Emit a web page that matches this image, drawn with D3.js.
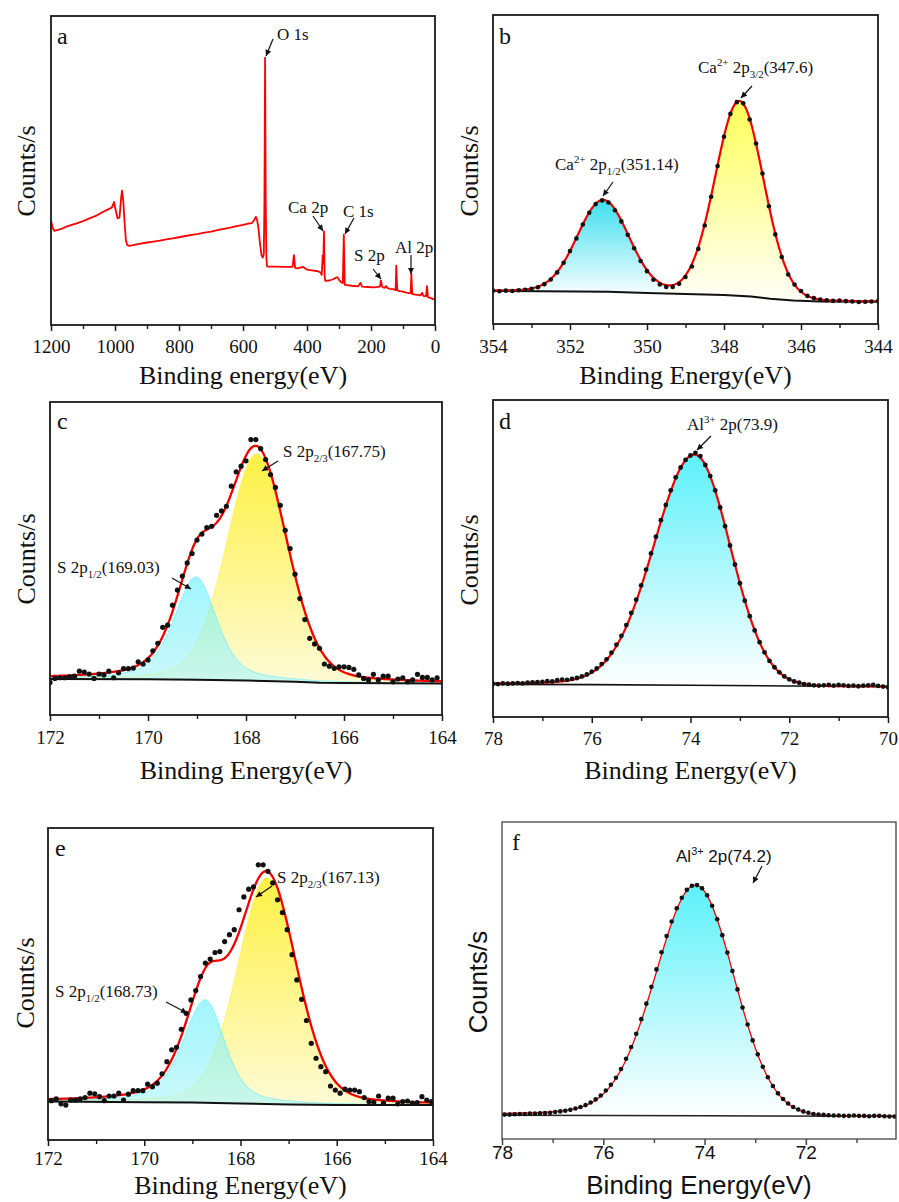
<!DOCTYPE html>
<html><head><meta charset="utf-8">
<script src="https://cdn.jsdelivr.net/npm/d3@7"></script>
<style>body{margin:0;background:#fff}</style>
</head><body>
<svg id="chart" width="899" height="1202"></svg>
<script>
// ================= DATA =================
// (a) survey spectrum: binding energy (eV) and relative counts (% of plot height)
const surveyEnergy=[1200,1195,1190,1170,1150,1120,1100,1080,1060,1040,1020,1010,1003,998,992,986,981,978,974,970,966,962,955,940,920,900,880,860,840,820,800,780,760,740,720,700,680,660,640,620,600,580,572,566,560,556,552,547,542,538,535,533,531,529,527,525,520,500,470,445,441,437,430,412,400,380,365,358,354,351,349,347,345,343,330,318,310,305,300,292,288,285,282,275,260,240,233,228,210,190,172,169,165,158,153,148,140,130,123,121,118,110,100,90,80,76,74,71,60,45,40,36,28,25,22,15,5,0];
const surveyCounts=[33.8,31.5,30.5,31.0,31.9,32.9,33.6,34.5,35.3,36.5,37.5,38.0,39.8,37.2,34.5,34.8,41.0,43.5,40.0,33.0,27.5,25.9,25.6,25.9,26.3,26.7,27.0,27.3,27.7,28.0,28.4,28.8,29.2,29.5,29.9,30.2,30.7,31.1,31.5,32.0,32.4,32.9,33.0,33.8,35.0,34.0,31.5,26.5,22.5,21.8,23.0,40,86.5,40,22.0,19.0,18.9,18.9,18.8,18.8,22.6,18.5,18.3,18.8,17.9,17.6,17.4,17.0,16.2,22.5,20.0,30.3,16.0,14.3,14.4,14.8,15.3,15.5,14.6,13.7,13.6,29.2,13.0,12.9,12.7,12.5,13.7,12.4,12.3,12.2,12.4,14.4,12.4,12.0,12.6,11.9,11.7,11.6,11.3,19.2,11.2,11.0,10.8,10.5,10.3,10.3,16.6,10.0,9.8,9.6,10.4,9.4,9.3,12.6,9.0,8.8,8.4,8.3];

// (b) Ca 2p
const bStart=354, bStep=1/6;
const bCounts=[10.8,10.6,10.8,10.7,10.9,11.1,11.4,11.9,12.9,14.4,16.7,19.8,23.6,27.7,32.2,36.0,38.8,40.0,39.3,36.8,33.2,28.9,24.5,20.4,17.1,14.3,12.8,12.0,12.0,13.0,15.2,18.6,24.3,31.9,41.2,51.1,60.6,68.0,71.8,71.4,66.2,58.4,48.7,38.1,29.0,21.7,16.0,12.8,10.7,9.1,8.4,7.9,7.7,7.5,7.6,7.4,7.3,7.1,7.2,7.3,7.4];
const bBaseE=[354,351,350,349,348,347.3,346.8,346.2,345.5,344];
const bBaseV=[10.7,10.4,10.0,9.7,9.4,8.9,8.2,7.6,7.3,7.2];
const bPeaks=[
  {center:351.14,height:29.6,wl:1.58,wr:1.58,etaL:0.05,etaR:0.05,tone:'cyanSoft'},
  {center:347.6,height:63.0,wl:1.48,wr:1.48,etaL:0.05,etaR:0.05,tone:'yellowSoft'}
];

// (c) S 2p (sample 1)
const cStart=172.0, cStep=0.1;
const cCounts=[10.4,11.7,11.9,11.9,12.2,12.4,14.0,13.7,13.1,11.7,13.1,12.8,14.0,11.9,13.5,14.8,14.8,15.0,17.0,16.3,17.6,20.5,22.9,28.0,28.7,35.1,39.9,44.4,48.6,51.6,55.9,57.8,59.9,60.3,63.8,65.2,66.7,73.1,77.7,79.5,81.2,88.0,88.0,85.1,81.6,76.8,72.7,67.0,59.0,53.2,45.0,37.2,30.5,24.5,22.7,21.3,16.3,15.6,14.9,15.4,15.4,15.2,14.6,12.8,11.7,11.2,13.0,11.2,12.4,12.4,10.6,11.5,11.9,10.6,11.2,13.0,12.0,12.0,11.2,11.9];
const cBaseE=[172,170,169,168,167,166.5,166,164];
const cBaseV=[11.5,11.4,11.3,11.0,10.6,10.3,10.2,10.1];
const cPeaks=[
  {center:167.78,height:72.5,wl:1.46,wr:1.46,etaL:0.2,etaR:0.2,tone:'yellow'},
  {center:169.02,height:32.8,wl:1.06,wr:1.0,etaL:0.5,etaR:0.5,tone:'cyan'}
];

// (d) Al 2p (sample 1)
const dStart=78, dStep=0.1;
const dCounts=[10.5,10.4,10.6,10.5,10.6,10.7,10.6,10.8,10.9,11.0,11.1,11.3,11.2,11.6,11.8,11.7,12.0,12.3,12.8,13.4,14.3,15.3,16.7,18.2,20.3,22.8,25.6,29.0,32.8,37.0,41.5,46.5,51.6,56.9,62.1,66.9,71.5,75.6,78.7,81.1,82.5,83.3,82.3,79.5,76.0,71.5,66.1,60.2,54.1,48.1,42.2,36.7,31.8,27.3,23.6,20.4,17.7,15.7,14.1,12.8,11.9,11.2,10.8,10.4,10.2,10.0,9.9,10.0,10.1,9.9,10.1,10.0,9.8,9.9,9.7,9.9,10.0,10.1,9.8,9.6,9.4];
const dBaseE=[78,76,74,72,70];
const dBaseV=[10.3,10.2,10.0,9.8,9.6];
const dPeaks=[{center:73.92,height:72.8,wl:1.94,wr:1.70,etaL:0.08,etaR:0.0,tone:'aqua'}];

// (e) S 2p (sample 2)
const eStart=171.93, eStep=0.1;
const eCounts=[12.6,13.2,11.6,11.2,12.8,12.8,13.2,13.6,15.0,14.8,13.9,12.6,14.1,14.1,15.0,12.8,14.7,15.8,15.8,15.8,17.9,17.1,18.2,21.2,25.1,28.9,29.7,35.5,40.6,44.9,47.9,52.4,56.7,58.0,60.1,60.4,63.6,65.8,67.4,73.8,77.9,80.4,81.1,88.2,88.2,86.1,82.4,77.0,72.9,67.4,59.4,51.3,45.1,38.3,31.0,26.2,23.5,21.9,17.3,16.0,15.0,16.3,16.0,16.0,15.5,13.6,12.3,12.1,14.1,11.8,13.4,13.4,11.6,12.3,12.5,11.8,12.0,13.9,12.8,12.3];
const eBaseE=[172,170,169,168,167,166,164];
const eBaseV=[12.3,12.1,12.0,11.7,11.4,11.2,11.2];
const ePeaks=[
  {center:167.45,height:72.5,wl:1.45,wr:1.45,etaL:0.2,etaR:0.2,tone:'yellow'},
  {center:168.73,height:33.0,wl:1.1,wr:0.95,etaL:0.5,etaR:0.5,tone:'cyan'}
];

// (f) Al 2p (sample 2)
const fStart=77.95, fStep=0.1;
const fCounts=[7.7,7.7,7.8,7.9,7.9,8.0,8.0,8.1,8.2,8.3,8.5,8.7,8.9,9.2,9.6,10.1,10.7,11.5,12.5,13.7,15.3,17.1,19.3,22.1,25.3,29.0,33.2,37.8,42.7,48.0,53.5,58.9,64.0,68.6,72.8,76.1,78.6,79.9,80.1,79.1,76.9,73.6,69.3,64.3,58.8,53.0,47.2,41.5,36.1,31.1,26.7,22.8,19.5,16.7,14.4,12.6,11.2,10.1,9.3,8.7,8.3,7.9,7.7,7.6,7.5,7.4,7.4,7.3,7.3,7.4,7.3,7.3,7.2,7.3,7.3,7.2,7.1,7.1];
const fBaseE=[78,74,70.22];
const fBaseV=[7.5,7.3,7.2];
const fPeaks=[{center:74.18,height:72.8,wl:1.88,wr:1.78,etaL:0.14,etaR:0.0,tone:'aqua'}];

// tick values
const aTicks=[1200,1000,800,600,400,200,0], aMinor=[1100,900,700,500,300,100];
const bTicks=[354,352,350,348,346,344], bMinor=[353,351,349,347,345];
const cTicks=[172,170,168,166,164], cMinor=[171,169,167,165];
const dTicks=[78,76,74,72,70], dMinor=[77,75,73,71];
const eTicks=[172,170,168,166,164], eMinor=[171,169,167,165];
const fTicks=[78,76,74,72], fMinor=[77,75,73,71];

// ================= STYLE / LAYOUT =================
const serif='"Liberation Serif","Times New Roman",Times,serif';
const sans='"Liberation Sans",Arial,Helvetica,sans-serif';
const tones={
  cyanSoft:{stops:[['0','#3fdfee'],['1','#f2fdff']],op:1},
  yellowSoft:{stops:[['0','#ffff58'],['1','#fffff4']],op:1},
  yellow:{stops:[['0','#fff03a'],['1','#fffad2']],op:0.95},
  cyan:{stops:[['0','#62eefa'],['1','#a6f5fa']],op:0.6},
  aqua:{stops:[['0','#5cf1fa'],['1','#ffffff']],op:1}
};

const svg=d3.select('#chart');
const defs=svg.append('defs');
const mk=defs.append('marker').attr('id','arr').attr('viewBox','0 0 10 10')
  .attr('refX',10).attr('refY',5).attr('markerWidth',7).attr('markerHeight',6)
  .attr('markerUnits','userSpaceOnUse').attr('orient','auto');
mk.append('path').attr('d','M0,0 L10,5 L0,10 z').attr('fill','#111');

function pv(x,p){
  const left=x>=p.center;
  const w=left?p.wl:p.wr, eta=left?p.etaL:p.etaR;
  const d=(x-p.center)/w;
  return p.height*(eta/(1+4*d*d)+(1-eta)*Math.exp(-4*Math.LN2*d*d));
}

function rich(g,x,yb,parts,size,family){
  const t=g.append('text').attr('x',x).attr('y',yb).attr('font-size',size)
    .attr('font-family',family).attr('fill','#111');
  let cur=0;
  parts.forEach(p=>{
    const want=p.k==='sup'?-0.42*size:(p.k==='sub'?0.28*size:0);
    const s=t.append('tspan').text(p.t).attr('dy',want-cur);
    if(p.k) s.attr('font-size',size*0.64);
    cur=want;
  });
}

let clipN=0;
function panel(cfg){
  const [x0,y0,x1,y1]=cfg.box;
  const g=svg.append('g');
  const x=d3.scaleLinear().domain(cfg.domain).range([x0,x1]);
  const y=d3.scaleLinear().domain([0,100]).range([y1,y0]);
  const cid='clip'+(clipN++);
  defs.append('clipPath').attr('id',cid).append('rect').attr('x',x0).attr('y',y0).attr('width',x1-x0).attr('height',y1-y0);
  const plot=g.append('g').attr('clip-path',`url(#${cid})`);
  return {g,plot,x,y,cfg};
}

function finish(P){
  const {g,x,y,cfg}=P; const [x0,y0,x1,y1]=cfg.box;
  const ax1=g.append('g').attr('transform',`translate(0,${y1})`)
    .call(d3.axisBottom(x).tickValues(cfg.minor).tickSize(4).tickFormat(''));
  ax1.select('.domain').remove();
  ax1.selectAll('.tick line').attr('stroke',cfg.frame).attr('stroke-width',1.4);
  const ax2=g.append('g').attr('transform',`translate(0,${y1})`)
    .call(d3.axisBottom(x).tickValues(cfg.ticks).tickSize(6).tickFormat(d3.format('d')));
  ax2.select('.domain').remove();
  ax2.selectAll('.tick line').attr('stroke',cfg.frame).attr('stroke-width',1.5);
  ax2.selectAll('.tick text').attr('y',cfg.tickBase-y1).attr('dy',null)
    .attr('font-family',cfg.font).attr('font-size',19).attr('fill','#111');
  g.append('rect').attr('x',x0).attr('y',y0).attr('width',x1-x0).attr('height',y1-y0)
    .attr('fill','none').attr('stroke',cfg.frame).attr('stroke-width',cfg.frameW);
  g.append('text').attr('x',(x0+x1)/2).attr('y',cfg.titleBase).attr('text-anchor','middle')
    .attr('font-family',cfg.font).attr('font-size',26).attr('fill','#111').text(cfg.title);
  g.append('text').attr('transform',`translate(${cfg.countsX},${cfg.countsY}) rotate(-90)`)
    .attr('text-anchor','middle').attr('font-family',cfg.font).attr('font-size',26).attr('fill','#111').text('Counts/s');
  g.append('text').attr('x',cfg.letterPos[0]).attr('y',cfg.letterPos[1]).attr('font-family',serif)
    .attr('font-size',24).attr('fill','#111').text(cfg.letter);
  (cfg.notes||[]).forEach(n=>{
    rich(g,n.x,n.y,n.parts,17,cfg.noteFont||cfg.font);
    g.append('line').attr('x1',n.arrow[0]).attr('y1',n.arrow[1]).attr('x2',n.arrow[2]).attr('y2',n.arrow[3])
      .attr('stroke','#111').attr('stroke-width',1.2).attr('marker-end','url(#arr)');
  });
}

function fitPanel(P,start,step,counts,baseE,baseV,peaks,st){
  const {plot,x,y,cfg}=P;
  const base=d3.scaleLinear().domain(baseE).range(baseV);
  const [d0,d1]=cfg.domain;
  const N=600;
  const xs=d3.range(N+1).map(i=>d0+(d1-d0)*i/N);
  peaks.forEach((p,k)=>{
    const tone=tones[p.tone];
    const gid='grad'+cfg.letter+k;
    const top=y(base(p.center)+p.height), bot=y(base(p.center));
    const gr=defs.append('linearGradient').attr('id',gid).attr('gradientUnits','userSpaceOnUse')
      .attr('x1',0).attr('x2',0).attr('y1',top).attr('y2',bot);
    tone.stops.forEach(s=>gr.append('stop').attr('offset',s[0]).attr('stop-color',s[1]));
    const area=d3.area().x(v=>x(v)).y0(v=>y(base(v))).y1(v=>y(base(v)+pv(v,p)));
    plot.append('path').datum(xs).attr('d',area).attr('fill',`url(#${gid})`).attr('fill-opacity',tone.op);
    if(st.compStroke) plot.append('path').datum(xs)
      .attr('d',d3.line().x(v=>x(v)).y(v=>y(base(v)+pv(v,p))))
      .attr('fill','none').attr('stroke',tone.stops[0][1]).attr('stroke-width',1).attr('opacity',0.7);
  });
  plot.append('path').datum(baseE.map((e,i)=>[e,baseV[i]]))
    .attr('d',d3.line().x(d=>x(d[0])).y(d=>y(d[1])))
    .attr('fill','none').attr('stroke',st.baseColor).attr('stroke-width',st.baseW);
  plot.append('path').datum(xs)
    .attr('d',d3.line().x(v=>x(v)).y(v=>y(base(v)+d3.sum(peaks,p=>pv(v,p)))))
    .attr('fill','none').attr('stroke','#f00000').attr('stroke-width',st.redW);
  plot.selectAll('circle.dot').data(counts.map((c,i)=>[start-i*step,c]))
    .enter().append('circle').attr('class','dot')
    .attr('cx',d=>x(d[0])).attr('cy',d=>y(d[1])).attr('r',st.r).attr('fill','#111');
}

// ---------- panel a ----------
const A=panel({box:[51,16,435,325],domain:[1200,0]});
A.plot.append('path').datum(surveyEnergy.map((e,i)=>[e,surveyCounts[i]]))
  .attr('d',d3.line().x(d=>A.x(d[0])).y(d=>A.y(d[1])))
  .attr('fill','none').attr('stroke','#ff0000').attr('stroke-width',1.8).attr('stroke-linejoin','round');
Object.assign(A.cfg,{ticks:aTicks,minor:aMinor,font:serif,frame:'#1a1a1a',frameW:1.8,tickBase:353,
  title:'Binding energy(eV)',titleBase:384,countsX:35,countsY:171,letter:'a',letterPos:[57,44],
  notes:[
    {x:277,y:40,parts:[{t:'O 1s'}],arrow:[273,39,266,56]},
    {x:288,y:213,parts:[{t:'Ca 2p'}],arrow:[313,216,323,231]},
    {x:343,y:217,parts:[{t:'C 1s'}],arrow:[354,218,345,234]},
    {x:354,y:261,parts:[{t:'S 2p'}],arrow:[373,269,381,279]},
    {x:395,y:253,parts:[{t:'Al 2p'}],arrow:[411,255,411,274]}
  ]});
finish(A);

// ---------- panel b ----------
const B=panel({box:[493,15,878,324],domain:[354,344],letter:'b'});
fitPanel(B,bStart,bStep,bCounts,bBaseE,bBaseV,bPeaks,{baseColor:'#111',baseW:2,redW:2.2,r:2.3});
Object.assign(B.cfg,{ticks:bTicks,minor:bMinor,font:serif,frame:'#1a1a1a',frameW:1.8,tickBase:353,
  title:'Binding Energy(eV)',titleBase:384,countsX:478,countsY:171,letterPos:[499,44],
  notes:[
    {x:698,y:73,parts:[{t:'Ca'},{t:'2+',k:'sup'},{t:' 2p'},{t:'3/2',k:'sub'},{t:'(347.6)'}],arrow:[752,86,741,98]},
    {x:555,y:170,parts:[{t:'Ca'},{t:'2+',k:'sup'},{t:' 2p'},{t:'1/2',k:'sub'},{t:'(351.14)'}],arrow:[613,182,603,196]}
  ]});
finish(B);

// ---------- panel c ----------
const C=panel({box:[50,402,442,715],domain:[172,164],letter:'c'});
fitPanel(C,cStart,cStep,cCounts,cBaseE,cBaseV,cPeaks,{baseColor:'#111',baseW:2,redW:2.3,r:2.6,compStroke:true});
Object.assign(C.cfg,{ticks:cTicks,minor:cMinor,font:serif,frame:'#1a1a1a',frameW:1.8,tickBase:743.5,
  title:'Binding Energy(eV)',titleBase:779,countsX:35,countsY:559,letterPos:[57,429],
  notes:[
    {x:283,y:457,parts:[{t:'S 2p'},{t:'2/3',k:'sub'},{t:'(167.75)'}],arrow:[278,461,262,471]},
    {x:57,y:573,parts:[{t:'S 2p'},{t:'1/2',k:'sub'},{t:'(169.03)'}],arrow:[172,578,191,589]}
  ]});
finish(C);

// ---------- panel d ----------
const D=panel({box:[493,400,888,717],domain:[78,70],letter:'d'});
fitPanel(D,dStart,dStep,dCounts,dBaseE,dBaseV,dPeaks,{baseColor:'#111',baseW:1.6,redW:2.2,r:2.4});
Object.assign(D.cfg,{ticks:dTicks,minor:dMinor,font:serif,frame:'#1a1a1a',frameW:1.8,tickBase:745,
  title:'Binding Energy(eV)',titleBase:779,countsX:478,countsY:560,letterPos:[499,429],
  notes:[
    {x:687,y:430,parts:[{t:'Al'},{t:'3+',k:'sup'},{t:' 2p(73.9)'}],arrow:[711,436,697,450]}
  ]});
finish(D);

// ---------- panel e ----------
const E=panel({box:[48,828,433,1140],domain:[172,164],letter:'e'});
fitPanel(E,eStart,eStep,eCounts,eBaseE,eBaseV,ePeaks,{baseColor:'#111',baseW:2,redW:2.3,r:2.6,compStroke:true});
Object.assign(E.cfg,{ticks:eTicks,minor:eMinor,font:serif,frame:'#1a1a1a',frameW:1.8,tickBase:1165,
  title:'Binding Energy(eV)',titleBase:1194,countsX:34,countsY:983,letterPos:[55,856],
  notes:[
    {x:277,y:883,parts:[{t:'S 2p'},{t:'2/3',k:'sub'},{t:'(167.13)'}],arrow:[272,886,256,897]},
    {x:55,y:997,parts:[{t:'S 2p'},{t:'1/2',k:'sub'},{t:'(168.73)'}],arrow:[166,1002,187,1013]}
  ]});
finish(E);

// ---------- panel f ----------
const F=panel({box:[502,822,896,1139],domain:[78,70.22],letter:'f'});
fitPanel(F,fStart,fStep,fCounts,fBaseE,fBaseV,fPeaks,{baseColor:'#222',baseW:1.5,redW:1.3,r:2.3});
Object.assign(F.cfg,{ticks:fTicks,minor:fMinor,font:sans,frame:'#444',frameW:1.3,tickBase:1158.5,
  title:'Binding Energy(eV)',titleBase:1194,countsX:487,countsY:982,letterPos:[512,850],
  notes:[
    {x:676,y:862,parts:[{t:'Al'},{t:'3+',k:'sup'},{t:' 2p(74.2)'}],arrow:[762,866,753,883]}
  ]});
finish(F);
</script>
</body></html>
